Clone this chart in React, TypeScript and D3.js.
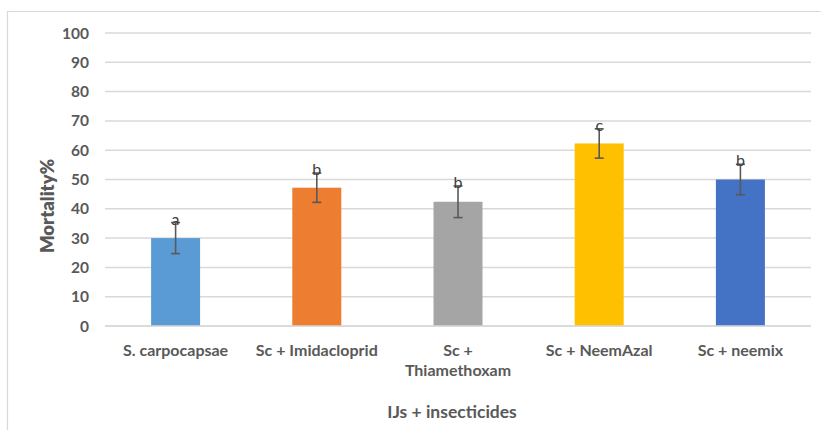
import React from "react";
import * as d3 from "d3";

const categories = ["S. carpocapsae", "Sc + Imidacloprid", "Sc + Thiamethoxam", "Sc + NeemAzal", "Sc + neemix"];
const labelLines = [["S. carpocapsae"], ["Sc + Imidacloprid"], ["Sc +", "Thiamethoxam"], ["Sc + NeemAzal"], ["Sc + neemix"]];
const mortality = [30, 47.2, 42.4, 62.3, 50];
const errors = [5.3, 5, 5.4, 5, 5.2];
const letters = ["a", "b", "b", "c", "b"];
const colors = ["#5b9bd5", "#ed7d31", "#a5a5a5", "#ffc000", "#4472c4"];
const yTicks = [0, 10, 20, 30, 40, 50, 60, 70, 80, 90, 100];

const W = 821;
const H = 430;
const left = 105;
const right = 811;
const top = 33;
const bottom = 326;
const font = "Lato, 'Open Sans', sans-serif";

export default function App() {
  const x = d3.scaleBand<string>().domain(categories).range([left, right]).paddingInner(0).paddingOuter(0);
  const y = d3.scaleLinear().domain([0, 100]).range([bottom, top]);
  const barW = 49;

  return (
    <svg width={W} height={H} style={{ position: "absolute", left: 0, top: 0 }}>
      <rect x={0} y={0} width={W} height={H} fill="#fff" />
      <path d={`M7.5,${H} V11.5 H${W}`} fill="none" stroke="#d9d9d9" strokeWidth={1.2} />
      {yTicks.map((t) => (
        <g key={t}>
          <line x1={left} x2={right} y1={y(t)} y2={y(t)} stroke="#d9d9d9" strokeWidth={1.5} />
          <text x={89} y={y(t)} dy="0.36em" textAnchor="end" fontFamily={font} fontWeight={700} fontSize={15.5} fill="#595959">
            {t}
          </text>
        </g>
      ))}
      {categories.map((c, i) => {
        const cx = (x(c) as number) + x.bandwidth() / 2;
        const yt = y(mortality[i] + errors[i]);
        const yb = y(mortality[i] - errors[i]);
        return (
          <g key={c}>
            <rect x={cx - barW / 2} y={y(mortality[i])} width={barW} height={bottom - y(mortality[i])} fill={colors[i]} />
            <line x1={cx} x2={cx} y1={yt} y2={yb} stroke="#595959" strokeWidth={1.6} />
            <line x1={cx - 4.5} x2={cx + 4.5} y1={yt} y2={yt} stroke="#595959" strokeWidth={1.6} />
            <line x1={cx - 4.5} x2={cx + 4.5} y1={yb} y2={yb} stroke="#595959" strokeWidth={1.6} />
            <text x={cx} y={yt + 2} textAnchor="middle" fontFamily={font} fontSize={16} fill="#404040">
              {letters[i]}
            </text>
            {labelLines[i].map((ln, k) => (
              <text key={k} x={cx} y={356 + k * 20} textAnchor="middle" fontFamily={font} fontWeight={700} fontSize={16} fill="#595959">
                {ln}
              </text>
            ))}
          </g>
        );
      })}
      <line x1={left} x2={right} y1={bottom} y2={bottom} stroke="#d9d9d9" strokeWidth={1.5} />
      <text transform={`translate(54,206) rotate(-90)`} textAnchor="middle" fontFamily={font} fontWeight={800} fontSize={18.5} fill="#595959">
        Mortality%
      </text>
      <text x={452} y={418} textAnchor="middle" fontFamily={font} fontWeight={700} fontSize={17.5} fill="#595959">
        IJs + insecticides
      </text>
    </svg>
  );
}
